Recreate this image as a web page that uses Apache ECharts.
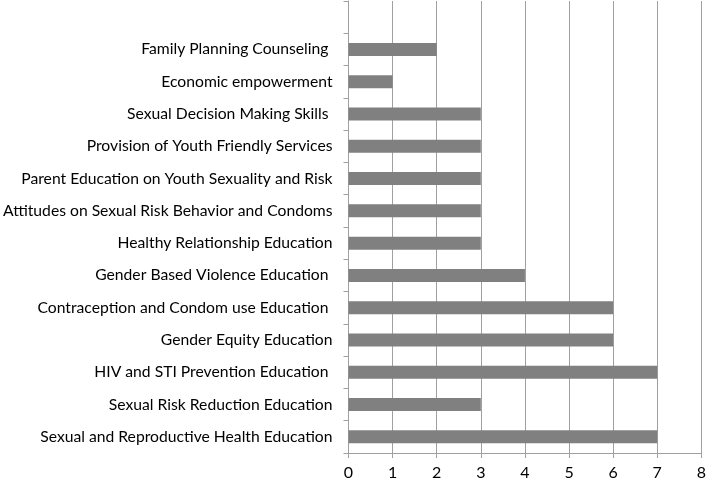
<!DOCTYPE html>
<html><head><meta charset="utf-8">
<script src="https://cdn.jsdelivr.net/npm/echarts@6/dist/echarts.min.js"></script>
<style>html,body{margin:0;padding:0;background:#fff}#c{width:709px;height:481px}</style>
</head><body><div id="c"></div>
<script>
var categories = [
  "Sexual and Reproductive Health Education",
  "Sexual Risk Reduction Education",
  "HIV and STI Prevention Education ",
  "Gender Equity Education",
  "Contraception and Condom use Education ",
  "Gender Based Violence Education ",
  "Healthy Relationship Education",
  "Attitudes on Sexual Risk Behavior and Condoms",
  "Parent Education on Youth Sexuality and Risk",
  "Provision of Youth Friendly Services",
  "Sexual Decision Making Skills ",
  "Economic empowerment",
  "Family Planning Counseling ",
  ""
];
var values = [7, 3, 7, 6, 6, 4, 3, 3, 3, 3, 3, 1, 2, null];
var xTicks = [0, 1, 2, 3, 4, 5, 6, 7, 8];

var chart = echarts.init(document.getElementById('c'));
chart.setOption({
  animation: false,
  grid: {left: 347, right: 4, top: 1, bottom: 28, containLabel: false},
  xAxis: {
    type: 'value', min: xTicks[0], max: xTicks[xTicks.length - 1], interval: 1,
    axisLine: {show: true, lineStyle: {color: '#a0a0a0', width: 1}},
    axisTick: {show: true, length: 5, lineStyle: {color: '#a0a0a0'}},
    splitLine: {show: true, lineStyle: {color: '#a0a0a0', width: 1}},
    axisLabel: {color: '#000', fontFamily: 'Lato', fontSize: 16, margin: 12}
  },
  yAxis: {
    type: 'category', data: categories,
    axisLine: {show: true, lineStyle: {color: '#a0a0a0', width: 1}},
    axisTick: {show: true, length: 5, alignWithLabel: false, lineStyle: {color: '#a0a0a0'}},
    axisLabel: {color: '#000', fontFamily: 'Lato', fontSize: 15.7, margin: 16}
  },
  series: [{
    type: 'bar', data: values, barWidth: 13,
    itemStyle: {color: '#808080'}
  }]
});
</script></body></html>
